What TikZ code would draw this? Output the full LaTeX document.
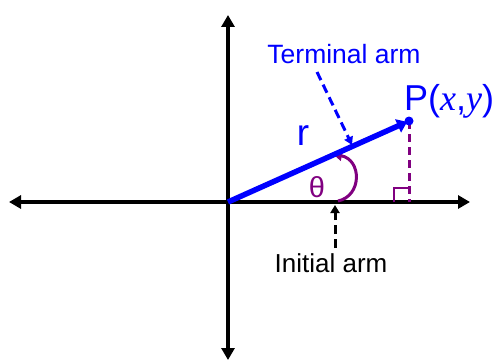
\documentclass[tikz,border=0pt]{standalone}
\usepackage{fontspec}
\setmainfont{Liberation Sans}
\newfontfamily\timesf{Liberation Serif}
\usetikzlibrary{arrows.meta}
\definecolor{pblue}{RGB}{0,0,255}
\definecolor{ppurple}{RGB}{128,0,128}
\tikzset{
  axisline/.style={line width=4pt,-{Triangle[length=12pt,width=13pt]}},
  armline/.style={line width=5.5pt,pblue,-{Triangle[length=10pt,width=14pt]}},
  dropline/.style={line width=3pt,ppurple,dash pattern=on 8pt off 5pt},
  pointer/.style={line width=3pt,dash pattern=on 9pt off 5pt,-{Triangle[length=8pt,width=9pt]}},
  lbl/.style={inner sep=0pt}
}
\begin{document}
\begin{tikzpicture}[x=1pt,y=-1pt]
\useasboundingbox (0,0) rectangle (494,361);
\coordinate (O) at (228,202);
\coordinate (L) at (9,202);
\coordinate (R) at (470,202);
\coordinate (T) at (228,15);
\coordinate (B) at (228,360);
\coordinate (P) at (409,121);
\coordinate (F) at (409,202);
\coordinate (A1) at (338,201);
\coordinate (A2) at (333,154);
\coordinate (IA) at (335,205);
\coordinate (TA) at (352,145);
% axes
\draw[axisline] (O) -- (R);
\draw[axisline] (O) -- (L);
\draw[axisline] (O) -- (T);
\draw[axisline] (O) -- (B);
% drop line and right angle
\draw[dropline] (P) -- (F);
\draw[ppurple,line width=2pt] (394,202) -- (394,188) -- (408,188);
% angle arc
\draw[ppurple,line width=3pt,-{Triangle[length=9pt,width=10pt]}] (A1) .. controls (362,196) and (362,160) .. (A2);
% terminal arm
\draw[armline,shorten >=2pt] (O) -- (P);
\fill[pblue] (P) circle (4.5pt);
% labels
\node[lbl,pblue,font=\fontsize{26.5}{30}\selectfont] (tlab) at (344,54) {Terminal arm};
\node[lbl,font=\fontsize{26}{30}\selectfont] (ilab) at (331,263) {Initial arm};
\node[lbl,pblue,anchor=base west,font=\fontsize{36}{40}\selectfont] (plab) at (404,110) {P({\timesf\itshape x},{\timesf\itshape y})};
\node[lbl,pblue,font=\fontsize{37}{40}\selectfont] (rlab) at (303,136) {r};
\node[lbl,ppurple,font=\fontsize{29}{32}\selectfont] (thlab) at (317,187) {θ};
% pointers
\draw[pointer,pblue] (317,72) -- (TA);
\draw[pointer,black] (335,248) -- (IA);
\end{tikzpicture}
\end{document}
